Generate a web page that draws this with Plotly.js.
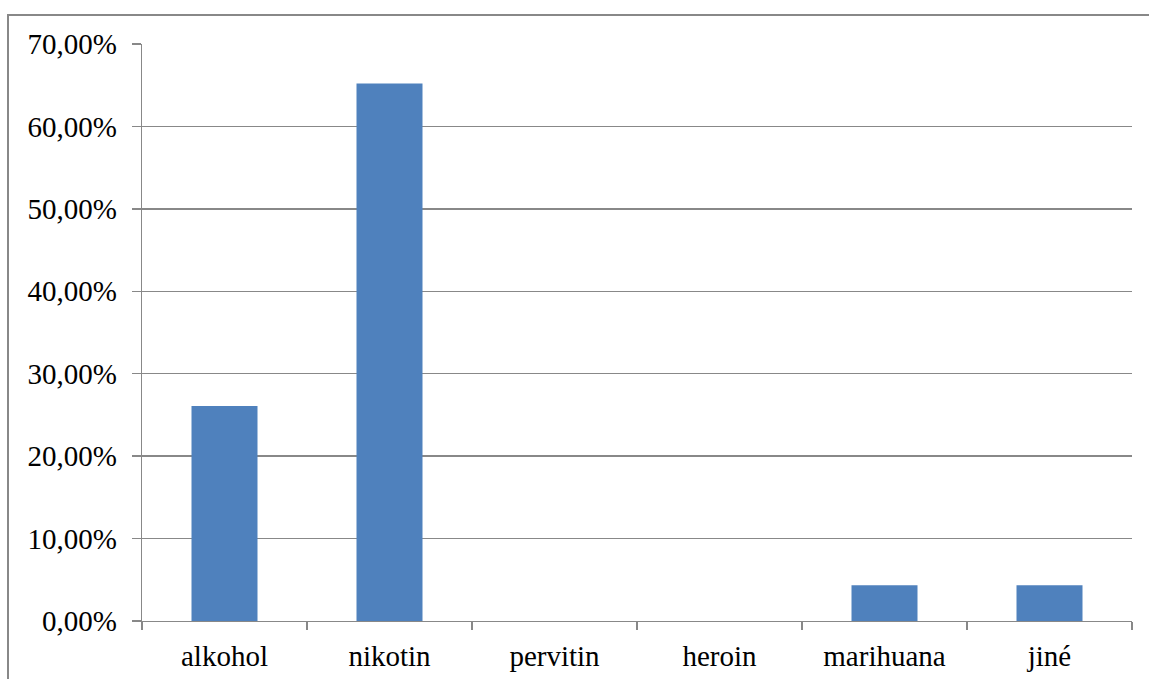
<!DOCTYPE html>
<html>
<head>
<meta charset="utf-8">
<script src="https://cdn.plot.ly/plotly-3.0.1.min.js"></script>
<style>
  html, body { margin: 0; padding: 0; background: #ffffff; }
  #chart { width: 1149px; height: 679px; }
</style>
</head>
<body>
<div id="chart"></div>
<script>
// Podíl užívaných návykových látek
const categories = ['alkohol', 'nikotin', 'pervitin', 'heroin', 'marihuana', 'jiné'];
const shares = [0.2609, 0.6522, 0, 0, 0.0435, 0.0435];
const yTickValues = [0, 0.1, 0.2, 0.3, 0.4, 0.5, 0.6, 0.7];

const grey = '#888888';
const font = { family: '"Liberation Serif", "Times New Roman", serif', size: 29, color: '#000000' };

const trace = {
  type: 'bar',
  x: categories,
  y: shares,
  marker: { color: '#4F81BD' },
  hoverinfo: 'x+y'
};

const layout = {
  width: 1149,
  height: 679,
  margin: { l: 142, r: 17, t: 44, b: 58 },
  paper_bgcolor: '#ffffff',
  plot_bgcolor: '#ffffff',
  separators: ',.',
  font: font,
  showlegend: false,
  bargap: 0.6,
  xaxis: {
    type: 'category',
    showline: true,
    linecolor: grey,
    linewidth: 1.3,
    showgrid: false,
    ticks: 'outside',
    tickson: 'boundaries',
    ticklen: 8,
    tickcolor: grey,
    tickwidth: 1.3,
    ticklabelstandoff: 9,
    tickfont: font,
    fixedrange: true
  },
  yaxis: {
    range: [0, 0.7],
    tickvals: yTickValues,
    tickformat: '.2%',
    showline: true,
    linecolor: grey,
    linewidth: 1.3,
    showgrid: true,
    gridcolor: grey,
    gridwidth: 1.3,
    zeroline: false,
    ticks: 'outside',
    ticklen: 9,
    tickcolor: grey,
    tickwidth: 1.3,
    ticklabelstandoff: 9,
    tickfont: font,
    fixedrange: true
  },
  shapes: [{
    type: 'rect',
    xref: 'paper', yref: 'paper',
    x0: (8 - 142) / 990, x1: (1160 - 142) / 990,
    y0: (621 - 690) / 577, y1: (621 - 15) / 577,
    line: { color: grey, width: 2 },
    fillcolor: 'rgba(0,0,0,0)',
    layer: 'below'
  }]
};

Plotly.newPlot('chart', [trace], layout, { displayModeBar: false, staticPlot: true });
</script>
</body>
</html>
